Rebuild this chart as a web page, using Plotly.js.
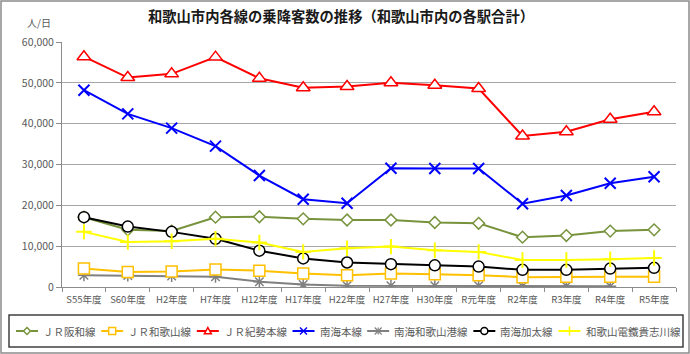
<!DOCTYPE html>
<html>
<head>
<meta charset="utf-8">
<script src="https://cdn.plot.ly/plotly-3.0.1.min.js"></script>
<style>
html,body{margin:0;padding:0;background:#fff;}
#chart{width:690px;height:354px;}
</style>
</head>
<body>
<div id="chart"></div>
<script>
// ---- data ----
const categories = ["S55年度","S60年度","H2年度","H7年度","H12年度","H17年度","H22年度","H27年度","H30年度","R元年度","R2年度","R3年度","R4年度","R5年度"];
const seriesNames = ["ＪＲ阪和線","ＪＲ和歌山線","ＪＲ紀勢本線","南海本線","南海和歌山港線","南海加太線","和歌山電鐵貴志川線"];
const jrHanwa    = [17100,14000,13700,17100,17200,16700,16400,16400,15800,15600,12200,12600,13700,14000];
const jrWakayama = [4500,3700,3800,4300,4000,3300,2900,3300,3100,2900,2400,2500,2500,2500];
const jrKisei    = [56400,51300,52200,56300,51100,48800,49100,50000,49400,48600,37000,38000,41100,42900];
const nankaiMain = [48200,42400,38900,34500,27300,21500,20500,29100,29000,29000,20400,22400,25400,27000];
const nankaiPort = [2900,2800,2700,2500,1300,600,300,300,300,300,200,200,200,null];
const nankaiKada = [17100,14800,13500,11800,8900,7000,6000,5600,5300,5000,4200,4200,4500,4700];
const kishigawa  = [13500,11000,11200,11800,10900,8600,9500,9900,9000,8600,6600,6600,6800,7100];
const yTickVals = [0,10000,20000,30000,40000,50000,60000];

// ---- styles ----
const FONT = '"Noto Sans CJK JP","Noto Sans",sans-serif';
const GRAY_TXT = '#595959';
const styles = [
  {color:'#77933C', symbol:'diamond',     size:9,  fill:'#ffffff', lw:1.5},
  {color:'#FFC000', symbol:'square',      size:11, fill:'#ffffff', lw:1.5},
  {color:'#FF0000', symbol:'triangle-up', size:12, fill:'#ffffff', lw:1.5},
  {color:'#0000FF', symbol:'x-thin',      size:11, fill:'#0000FF', lw:2},
  {color:'#808080', symbol:'asterisk',    size:10, fill:'#808080', lw:1.5},
  {color:'#000000', symbol:'circle',      size:11, fill:'#ffffff', lw:1.5},
  {color:'#FFFF00', symbol:'cross-thin',  size:11, fill:'#FFFF00', lw:2}
];
const allSeries = [jrHanwa, jrWakayama, jrKisei, nankaiMain, nankaiPort, nankaiKada, kishigawa];

const order = [4,1,0,5,6,3,2];
const traces = order.map(i => ({
  type:'scatter', mode:'lines+markers',
  x: categories, y: allSeries[i], name: seriesNames[i],
  line:{color:styles[i].color, width:2},
  marker:{symbol:styles[i].symbol, size:styles[i].size, color:styles[i].fill,
          line:{color:styles[i].color, width:styles[i].lw}},
  connectgaps:false, showlegend:false, hoverinfo:'x+y+name'
}));

// ---- geometry (pixels -> paper) ----
const W=690, H=354, ML=62, MR=14, MT=42, MB=67;
const PW = W-ML-MR, PH = H-MT-MB;
const px = v => (v-ML)/PW;
const py = v => (H-MB-v)/PH;

const shapes = [];
const annotations = [];

shapes.push({type:'rect', xref:'paper', yref:'paper', x0:px(1), x1:px(689), y0:py(1), y1:py(353),
  line:{color:'#8c8c8c', width:1.5}, fillcolor:'rgba(0,0,0,0)', layer:'below'});
shapes.push({type:'rect', xref:'paper', yref:'paper', x0:px(9), x1:px(683), y0:py(315), y1:py(347),
  line:{color:'#404040', width:1.5}, fillcolor:'rgba(0,0,0,0)'});

const LFS = 10.5;
const cvs = document.createElement('canvas').getContext('2d');
cvs.font = LFS + 'px "Noto Sans CJK JP"';
const tws = seriesNames.map(n => cvs.measureText(n).width);
const sumTw = tws.reduce((a,b)=>a+b,0);
const LX0 = 16, LX1 = 678, SYM = 22, TG = 25;
const gap = (LX1-LX0 - 7*TG - sumTw)/6;
const cy = 331;
let cur = LX0;
function seg(x0,y0,x1,y1,color,w){
  shapes.push({type:'line', xref:'paper', yref:'paper', x0:px(x0), y0:py(y0), x1:px(x1), y1:py(y1), line:{color:color, width:w}});
}
function pathShape(pts, color, fill, w){
  const d = 'M ' + pts.map(p => px(p[0]) + ',' + py(p[1])).join(' L ') + ' Z';
  shapes.push({type:'path', xref:'paper', yref:'paper', path:d, line:{color:color, width:w}, fillcolor:fill});
}
seriesNames.forEach((name, i) => {
  const s = styles[i];
  const c = s.color;
  seg(cur, cy, cur+SYM, cy, c, 2);
  const mx = cur + SYM/2, r = 3.5;
  switch(s.symbol){
    case 'diamond': pathShape([[mx-r,cy],[mx,cy-r],[mx+r,cy],[mx,cy+r]], c, '#fff', 1.5); break;
    case 'square': pathShape([[mx-r,cy-r],[mx+r,cy-r],[mx+r,cy+r],[mx-r,cy+r]], c, '#fff', 1.5); break;
    case 'triangle-up': pathShape([[mx-r,cy+r*0.8],[mx,cy-r],[mx+r,cy+r*0.8]], c, '#fff', 1.5); break;
    case 'circle':
      shapes.push({type:'circle', xref:'paper', yref:'paper', x0:px(mx-r), x1:px(mx+r), y0:py(cy+r), y1:py(cy-r),
        line:{color:c, width:1.5}, fillcolor:'#fff'}); break;
    case 'x-thin': seg(mx-r,cy-r,mx+r,cy+r,c,1.5); seg(mx-r,cy+r,mx+r,cy-r,c,1.5); break;
    case 'asterisk': seg(mx-r,cy-r,mx+r,cy+r,c,1.2); seg(mx-r,cy+r,mx+r,cy-r,c,1.2); seg(mx,cy-r,mx,cy+r,c,1.2); break;
    case 'cross-thin': seg(mx,cy-r-1,mx,cy+r+1,c,1.5); break;
  }
  annotations.push({xref:'paper', yref:'paper', x:px(cur+TG), y:py(cy), xanchor:'left', yanchor:'middle',
    text:name, showarrow:false, font:{family:FONT, size:LFS, color:GRAY_TXT}});
  cur += TG + tws[i] + gap;
});

annotations.push({xref:'paper', yref:'paper', x:px(39), y:py(23), xanchor:'center', yanchor:'middle',
  text:'人/日', showarrow:false, font:{family:FONT, size:10, color:GRAY_TXT}});

const layout = {
  width:W, height:H,
  margin:{l:ML, r:MR, t:MT, b:MB, pad:0},
  paper_bgcolor:'#ffffff', plot_bgcolor:'#ffffff',
  showlegend:false,
  title:{text:'<b>和歌山市内各線の乗降客数の推移（和歌山市内の各駅合計）</b>', xref:'paper', x:px(341), xanchor:'center',
    yref:'container', y:1-17/H, yanchor:'middle', font:{family:FONT, size:14.3, color:'#1a1a1a'}},
  xaxis:{type:'category', categoryorder:'array', categoryarray:categories, range:[-0.5,13.5],
    showgrid:false, zeroline:false, showline:true, linecolor:'#8c8c8c', linewidth:1,
    ticks:'outside', tickson:'boundaries', ticklen:4, tickcolor:'#8c8c8c', tickangle:0, ticklabelstandoff:4,
    tickfont:{family:FONT, size:9.5, color:GRAY_TXT}, fixedrange:true},
  yaxis:{range:[0,60000], tickvals:yTickVals, tickformat:',', showgrid:true, gridcolor:'#a6a6a6', gridwidth:1.3,
    zeroline:false, showline:true, linecolor:'#8c8c8c', linewidth:1, ticks:'outside', ticklen:5, tickcolor:'#8c8c8c',
    tickfont:{family:FONT, size:10.5, color:GRAY_TXT}, fixedrange:true},
  shapes:shapes, annotations:annotations
};

Plotly.newPlot('chart', traces, layout, {displayModeBar:false, staticPlot:true});
</script>
</body>
</html>
